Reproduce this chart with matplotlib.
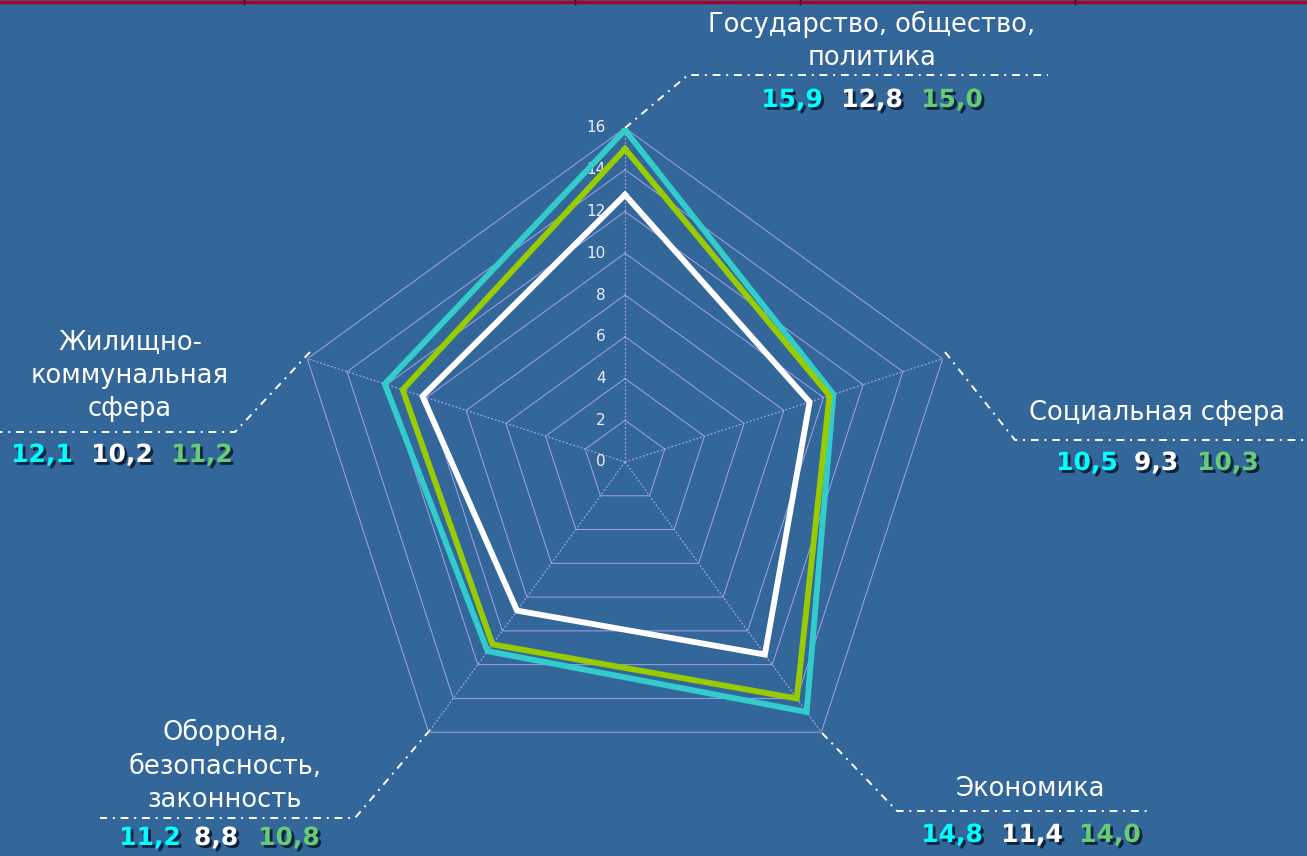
import numpy as np
import matplotlib
matplotlib.use("Agg")
import matplotlib.pyplot as plt
import matplotlib.patheffects as pe

BG = "#336699"
GRID = "#A3A3E6"

categories = ["Государство, общество,\nполитика", "Социальная сфера", "Экономика",
              "Оборона,\nбезопасность,\nзаконность", "Жилищно-\nкоммунальная\nсфера"]
series_cyan = [15.9, 10.5, 14.8, 11.2, 12.1]
series_white = [12.8, 9.3, 11.4, 8.8, 10.2]
series_green = [15.0, 10.3, 14.0, 10.8, 11.2]
r_ticks = [0, 2, 4, 6, 8, 10, 12, 14, 16]

line_colors = ["#33CCCC", "#FFFFFF", "#99CC00"]
text_colors = ["#00FFFF", "#FFFFFF", "#66CC77"]

fig = plt.figure(figsize=(13.07, 8.56), dpi=100, facecolor=BG)

# overlay in pixel coords for labels and leader lines
ov = fig.add_axes([0, 0, 1, 1], facecolor="none")
ov.set_xlim(0, 1307)
ov.set_ylim(856, 0)
ov.axis("off")

# radar
ax = fig.add_axes([291 / 1307, 60 / 856, 668 / 1307, 668 / 856], projection="polar")
ax.set_facecolor("none")
ax.set_theta_offset(np.pi / 2)
ax.set_theta_direction(-1)
ax.set_ylim(0, 16)
ax.grid(False)
ax.spines["polar"].set_visible(False)
ax.set_xticks([])
ax.set_yticks([])

n = len(categories)
angles = np.linspace(0, 2 * np.pi, n, endpoint=False)
closed = np.append(angles, angles[0])

for r in r_ticks[1:]:
    ax.plot(closed, [r] * (n + 1), color=GRID, lw=0.7)
for a in angles:
    ax.plot([a, a], [0, 16], color=GRID, lw=0.9, ls=(0, (1.5, 1.5)))

for r in r_ticks:
    ax.annotate(str(r), (0, r), xytext=(-14, 0), textcoords="offset points",
                ha="right", va="center", fontsize=11, color="#EEEEF8")

for vals, c in zip([series_cyan, series_green, series_white], [line_colors[0], line_colors[2], line_colors[1]]):
    ax.plot(closed, vals + vals[:1], color=c, lw=4.2, solid_joinstyle="miter", zorder=5)

# leader lines (pixel coords)
leaders = [
    [(625, 128), (688, 75), (1048, 75)],
    [(945, 352), (1015, 440), (1307, 440)],
    [(822, 733), (897, 811), (1150, 811)],
    [(430, 730), (355, 818), (100, 818)],
    [(310, 352), (235, 432), (0, 432)],
]
for pts in leaders:
    xs, ys = zip(*pts)
    ov.plot(xs, ys, color="white", lw=1.4, ls=(0, (4, 3, 1, 3)))

label_pos = [(872, 41), (1157, 413), (1030, 789), (225, 766), (130, 376)]
value_pos = [
    ([792, 872, 952], 100),
    ([1087, 1156, 1228], 463),
    ([952, 1032, 1110], 835),
    ([150, 216, 289], 838),
    ([42, 122, 202], 455),
]
shadow = [pe.withSimplePatchShadow(offset=(2, -2), shadow_rgbFace="#0A1A33", alpha=0.9)]
all_series = [series_cyan, series_white, series_green]
for i, cat in enumerate(categories):
    x, y = label_pos[i]
    ov.text(x, y, cat, ha="center", va="center", fontsize=18.5, color="white",
            linespacing=1.36)
    xs, yv = value_pos[i]
    for s, c, xv in zip(all_series, text_colors, xs):
        ov.text(xv, yv, f"{s[i]:.1f}".replace(".", ","), ha="center", va="center",
                fontsize=18, fontweight="bold", color=c, path_effects=shadow)

# top border remnant
ov.plot([0, 1307], [1.5, 1.5], color="#A0002A", lw=2.5)
for xb in [244, 575, 800, 1075]:
    ov.plot([xb, xb], [0, 4], color="#400010", lw=1)

fig.savefig("out.png", dpi=100, facecolor=BG)
